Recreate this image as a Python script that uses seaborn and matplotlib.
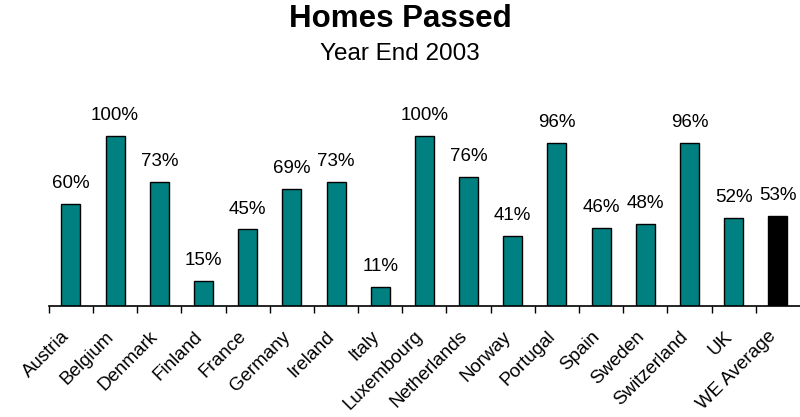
import pandas as pd
import numpy as np
import matplotlib.pyplot as plt
import matplotlib.transforms as mtransforms
import seaborn as sns

countries = ["Austria", "Belgium", "Denmark", "Finland", "France", "Germany", "Ireland",
             "Italy", "Luxembourg", "Netherlands", "Norway", "Portugal", "Spain",
             "Sweden", "Switzerland", "UK", "WE Average"]
passed = [60, 100, 73, 15, 45, 69, 73, 11, 100, 76, 41, 96, 46, 48, 96, 52, 53]
bar_colors = ["#008080"] * 16 + ["#000000"]

df = pd.DataFrame({"country": countries, "passed": passed})

sns.set_style("white")
plt.rcParams["font.family"] = ["Liberation Sans", "DejaVu Sans"]
plt.rcParams["text.color"] = "black"

fig = plt.figure(figsize=(8, 4.17), dpi=100)
ax = fig.add_axes([0.061, 0.266, 0.939, 0.49])

sns.barplot(data=df, x="country", y="passed", hue="country", palette=bar_colors,
            saturation=1, width=0.43, edgecolor="black", linewidth=1, legend=False, ax=ax)

for i, v in enumerate(passed):
    ax.text(i, v + 7, f"{v}%", ha="center", va="bottom", fontsize=13.5, color="black")

ax.set_xlim(-0.5, len(countries) - 0.5)
ax.set_ylim(0, 120)
ax.set_yticks([])
ax.set_xlabel("")
ax.set_ylabel("")
for s in ["top", "right", "left"]:
    ax.spines[s].set_visible(False)
ax.spines["bottom"].set_color("black")
ax.spines["bottom"].set_linewidth(1.2)

ax.set_xticks(np.arange(len(countries)))
ax.set_xticklabels(countries, rotation=45, ha="right", rotation_mode="anchor",
                   fontsize=13.5, color="black")
ax.tick_params(axis="x", which="major", length=0, pad=10, bottom=True)
ax.set_xticks(np.arange(len(countries)) - 0.5, minor=True)
ax.tick_params(axis="x", which="minor", length=5, width=1, color="black",
               direction="out", bottom=True)
shift = mtransforms.ScaledTranslation(-10 / 100, -8 / 100, fig.dpi_scale_trans)
for lab in ax.get_xticklabels():
    lab.set_transform(lab.get_transform() + shift)

fig.text(0.5, 0.955, "Homes Passed", ha="center", va="center", fontsize=22.5, fontweight="bold")
fig.text(0.5, 0.87, "Year End 2003", ha="center", va="center", fontsize=17.5)

fig.savefig("out.png", dpi=100)
